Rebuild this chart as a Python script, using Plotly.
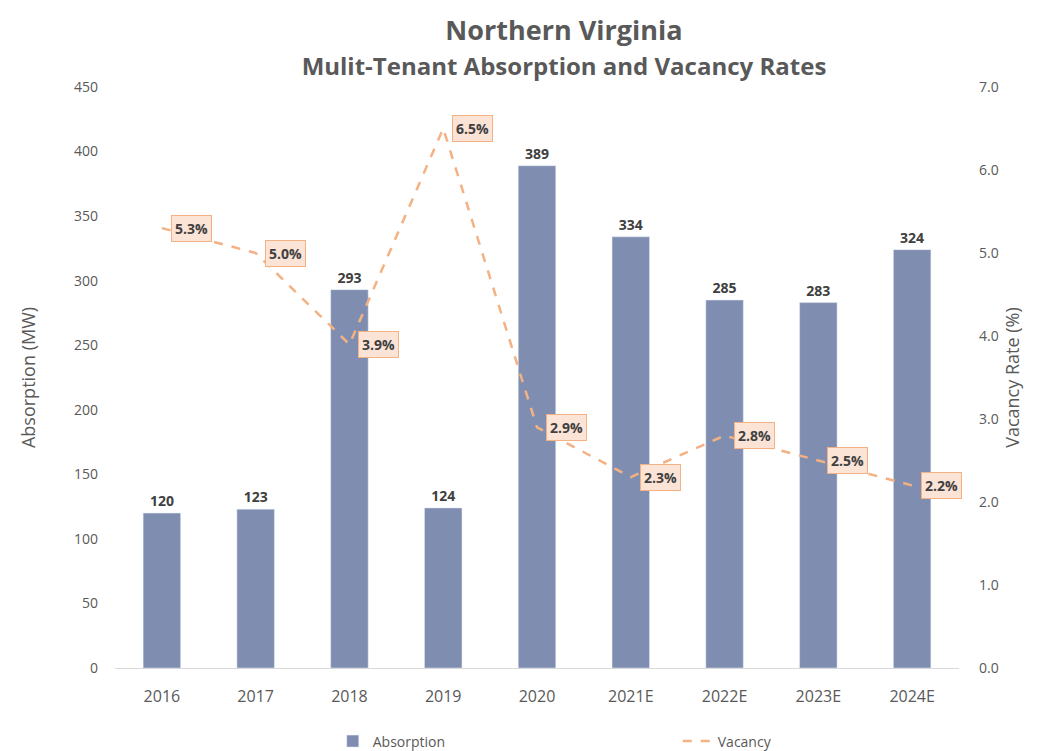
import plotly.graph_objects as go

years = ["2016", "2017", "2018", "2019", "2020", "2021E", "2022E", "2023E", "2024E"]
absorption = [120, 123, 293, 124, 389, 334, 285, 283, 324]
vacancy = [5.3, 5.0, 3.9, 6.5, 2.9, 2.3, 2.8, 2.5, 2.2]

left_ticks = [0, 50, 100, 150, 200, 250, 300, 350, 400, 450]
right_ticks = [0, 1, 2, 3, 4, 5, 6, 7]
right_tick_labels = ["0.0", "1.0", "2.0", "3.0", "4.0", "5.0", "6.0", "7.0"]

BAR = "#7F8EB0"
LINE = "#F4B183"
FONT = "Open Sans, Liberation Sans, sans-serif"

fig = go.Figure()
fig.add_trace(go.Bar(
    x=years, y=absorption, name="Absorption", marker_color=BAR,
    text=["<b>%d</b>" % v for v in absorption], textposition="outside",
    textfont=dict(size=14, color="#404040", family=FONT),
    cliponaxis=False,
))
fig.add_trace(go.Scatter(
    x=years, y=vacancy, name="Vacancy", yaxis="y2", mode="lines",
    line=dict(color=LINE, width=2.5, dash="dash"),
))

# category axis: annotations positioned by category index
for i, v in enumerate(vacancy):
    fig.add_annotation(
        x=i, y=v, xref="x", yref="y2", text="<b>%.1f%%</b>" % v,
        showarrow=False, xanchor="left", xshift=9,
        bgcolor="#FBE3D6", bordercolor="#F4B183", borderwidth=1, borderpad=3,
        font=dict(size=14, color="#404040", family=FONT),
    )

fig.update_layout(
    width=1049, height=751,
    paper_bgcolor="white", plot_bgcolor="white",
    margin=dict(l=107, r=98, t=79, b=91, autoexpand=False),
    title=dict(
        text="<b>Northern Virginia</b><br><span style='font-size:24px'><b>Mulit-Tenant Absorption and Vacancy Rates</b></span>",
        x=0.53, xanchor="center", y=0.958, yanchor="top",
        font=dict(size=27, color="#595959", family=FONT),
    ),
    bargap=0.6,
    showlegend=True,
    legend=dict(orientation="h", x=0.258, xanchor="left", y=-0.099, yanchor="top",
                font=dict(size=14, color="#595959", family=FONT),
                entrywidth=300),
    xaxis=dict(type="category", range=[-0.5, len(years) - 0.5], showline=True,
               linecolor="#D9D9D9", linewidth=1, ticks="", automargin=False,
               ticklabelstandoff=14,
               tickfont=dict(size=16, color="#595959", family=FONT)),
    yaxis=dict(range=[0, 450], tickvals=left_ticks, showgrid=False, zeroline=False,
               automargin=False, ticklabelstandoff=16,
               title=dict(text="Absorption (MW)", font=dict(size=18, color="#595959", family=FONT), standoff=33),
               tickfont=dict(size=14, color="#595959", family=FONT)),
    yaxis2=dict(range=[0, 7], tickvals=right_ticks, ticktext=right_tick_labels,
                overlaying="y", side="right", showgrid=False, zeroline=False,
                automargin=False, ticklabelstandoff=19,
                title=dict(text="Vacancy Rate (%)", font=dict(size=18, color="#595959", family=FONT), standoff=8),
                tickfont=dict(size=14, color="#595959", family=FONT)),
)

fig.write_html("out.html")
